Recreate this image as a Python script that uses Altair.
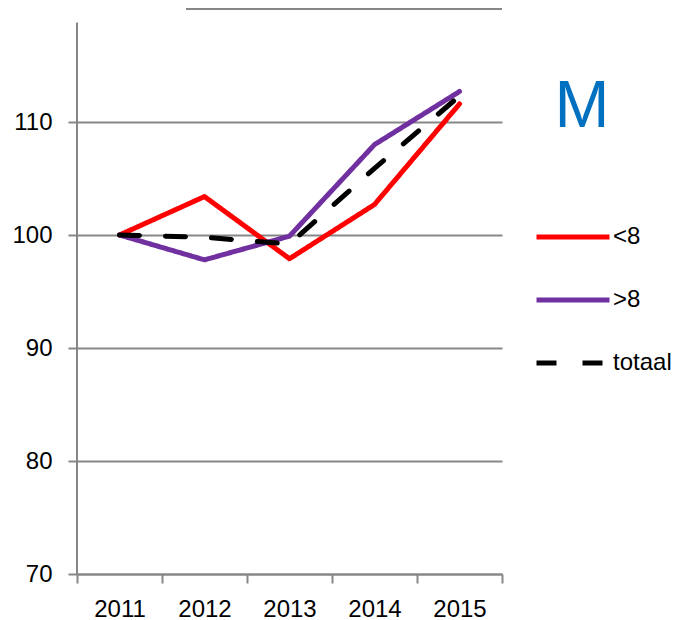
import altair as alt
import pandas as pd

years = ["2011", "2012", "2013", "2014", "2015"]
series = ["<8", ">8", "totaal"]
lt8 = [100, 103.4, 97.9, 102.7, 111.6]
gt8 = [100, 97.8, 99.9, 108.0, 112.7]
totaal = [100, 99.8, 99.2, 105.9, 112.3]
colors = ["#FF0000", "#7030A0", "#000000"]
dashes = [[1, 0], [1, 0], [20, 26]]
y_ticks = [70, 80, 90, 100, 110]
panel_label = "M"

rows = []
for s, vals in zip(series, [lt8, gt8, totaal]):
    for yr, v in zip(years, vals):
        rows.append({"jaar": yr, "serie": s, "waarde": v})
df = pd.DataFrame(rows)

FONT = "Liberation Sans"
GRAY = "#878787"
FS = 24

legend = alt.Legend(
    title=None, orient="none", legendX=457, legendY=213,
    symbolType="stroke", symbolSize=5329, symbolStrokeWidth=5,
    clipHeight=30, rowPadding=33,
    labelFontSize=FS, labelFont=FONT, labelColor="black", labelOffset=1,
    padding=0,
)

x_enc = alt.X(
    "jaar:N", bandPosition=0.5,
    scale=alt.Scale(type="band", paddingInner=0, paddingOuter=0),
    axis=alt.Axis(
        title=None, labelAngle=0, tickBand="extent", grid=False,
        domainColor=GRAY, domainWidth=2, tickColor=GRAY, tickWidth=2,
        tickSize=9, labelPadding=14, labelFontSize=FS, labelFont=FONT,
        labelColor="black",
    ),
)
y_enc = alt.Y(
    "waarde:Q",
    scale=alt.Scale(domain=[70, 120], nice=False, zero=False),
    axis=alt.Axis(
        values=y_ticks, title=None, grid=True, gridColor=GRAY, gridWidth=2,
        domain=False, tickColor=GRAY, tickWidth=2, tickSize=9,
        labelPadding=16, labelFontSize=FS, labelFont=FONT, labelColor="black",
    ),
)

lines = alt.Chart(df).mark_line(strokeWidth=5, strokeCap="round", strokeJoin="round").encode(
    x=x_enc,
    y=y_enc,
    color=alt.Color("serie:N", scale=alt.Scale(domain=series, range=colors), legend=legend),
    strokeDash=alt.StrokeDash("serie:N", scale=alt.Scale(domain=series, range=dashes), legend=legend),
)

one = pd.DataFrame({"a": [0]})
yaxis_line = alt.Chart(one).mark_rule(color=GRAY, strokeWidth=2).encode(
    x=alt.value(0), y=alt.datum(70), y2=alt.datum(118.8)
)
top_line = alt.Chart(one).mark_rule(color=GRAY, strokeWidth=2).encode(
    x=alt.value(109), x2=alt.value(425), y=alt.datum(120)
)
label = alt.Chart(one).mark_text(
    fontSize=66, color="#0070C0", font=FONT, align="center", baseline="alphabetic"
).encode(x=alt.value(505), y=alt.value(118), text=alt.value(panel_label))

chart = alt.layer(yaxis_line, top_line, lines, label).properties(
    width=425, height=565,
    autosize=alt.AutoSizeParams(type="none"),
    padding={"left": 69, "top": 1, "right": 175, "bottom": 46},
).configure_view(stroke=None)

chart.save("out.html", embed_options={"renderer": "svg", "actions": False})
